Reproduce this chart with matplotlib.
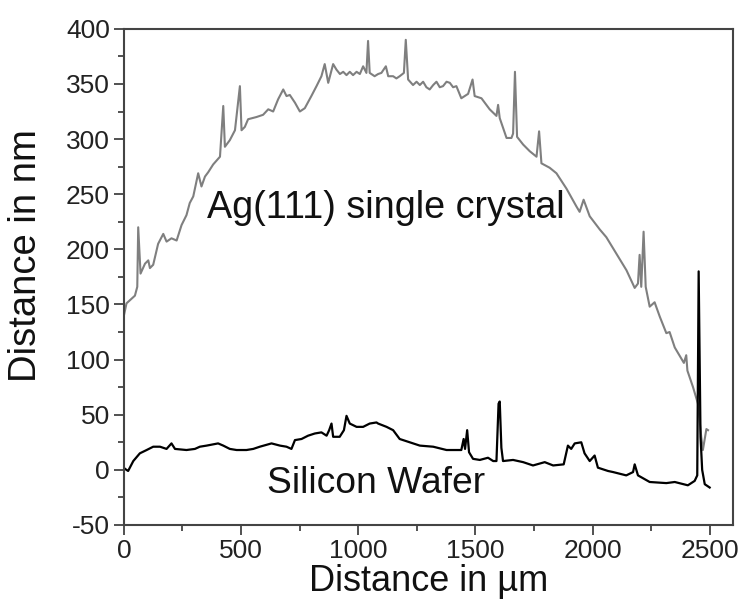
import matplotlib
matplotlib.use("Agg")
import matplotlib.pyplot as plt
from matplotlib.ticker import MultipleLocator

plt.rcParams['font.family'] = ['Liberation Sans', 'DejaVu Sans']
plt.rcParams['axes.unicode_minus'] = False

# Ag(111) single crystal profile (gray)
ag_x = [0, 11, 47, 57, 61, 71, 90, 104, 111, 125, 146, 168, 182, 203, 225, 246,
        267, 281, 296, 317, 331, 346, 360, 381, 410, 424, 431, 452, 474, 495, 502,
        516, 530, 566, 594, 616, 637, 658, 680, 694, 708, 730, 751, 772, 800, 822,
        843, 857, 872, 893, 907, 922, 936, 950, 964, 978, 993, 1007, 1021, 1035,
        1042, 1049, 1070, 1085, 1099, 1118, 1128, 1149, 1163, 1177, 1195, 1203,
        1213, 1234, 1249, 1263, 1277, 1291, 1305, 1320, 1334, 1348, 1362, 1377,
        1391, 1405, 1419, 1440, 1469, 1488, 1497, 1526, 1561, 1590, 1597, 1604,
        1633, 1654, 1661, 1669, 1678, 1704, 1732, 1761, 1772, 1782, 1817, 1846,
        1889, 1931, 1945, 1962, 1988, 2031, 2059, 2102, 2145, 2180, 2194, 2201,
        2208, 2218, 2227, 2244, 2265, 2287, 2315, 2329, 2351, 2379, 2390, 2400,
        2405, 2429, 2450, 2464, 2471, 2486, 2493]
ag_y = [140, 151, 158, 166, 220, 178, 187, 190, 183, 186, 205, 214, 207, 210, 208, 222,
        231, 242, 248, 269, 257, 266, 270, 277, 284, 330, 293, 299, 308, 348, 308,
        311, 318, 320, 322, 327, 325, 336, 345, 339, 340, 333, 325, 328, 339, 348,
        357, 368, 351, 368, 363, 359, 361, 358, 361, 358, 361, 359, 366, 360,
        389, 360, 357, 359, 360, 366, 357, 357, 355, 357, 360, 390,
        354, 349, 352, 349, 352, 347, 345, 349, 352, 347, 348, 352,
        351, 347, 348, 337, 341, 354, 339, 337, 327, 321, 331, 319,
        301, 301, 305, 361, 302, 295, 289, 284, 307, 278, 274, 269,
        255, 239, 234, 245, 230, 218, 211, 196, 181, 165, 169, 195,
        166, 216, 166, 148, 152, 139, 124, 125, 111, 101, 97, 104,
        90, 75, 60, 30, 18, 37, 36]

# Silicon wafer profile (black)
si_x = [0, 4, 18, 40, 68, 97, 125, 154, 182, 203, 218, 267, 303, 324, 353, 402,
        424, 452, 481, 523, 552, 580, 630, 666, 694, 715, 730, 758, 786, 815, 843,
        865, 876, 886, 893, 921, 939, 950, 964, 993, 1021, 1049, 1078, 1085, 1121,
        1149, 1177, 1220, 1263, 1320, 1377, 1440, 1450, 1456, 1465, 1473, 1490,
        1519, 1554, 1576, 1590, 1599, 1604, 1611, 1618, 1661, 1704, 1746, 1796,
        1832, 1877, 1895, 1909, 1924, 1952, 1966, 1988, 2009, 2023, 2066, 2088,
        2144, 2173, 2180, 2194, 2244, 2315, 2351, 2407, 2436, 2447, 2453, 2461,
        2468, 2479, 2500]
si_y = [2, 1, -1, 8, 15, 18, 21, 21, 19, 24, 19, 18, 19, 21, 22, 24,
        22, 19, 18, 18, 19, 21, 24, 22, 21, 19, 27, 28, 31, 33, 34,
        31, 36, 42, 30, 30, 36, 49, 42, 39, 39, 42, 43, 42, 39,
        36, 28, 25, 22, 21, 18, 18, 28, 19, 36, 16, 10,
        9, 11, 8, 8, 60, 62, 20, 8, 9, 7, 4, 7,
        4, 5, 22, 19, 24, 25, 15, 8, 13, 2, -1, -2,
        -5, -2, 5, -5, -11, -12, -11, -14, -10, -5, 180, 30,
        0, -13, -16]

fig = plt.figure(figsize=(7.42, 6.0), dpi=100)
ax = fig.add_axes([0.167, 0.125, 0.821, 0.827])

ax.plot(ag_x, ag_y, color='#7f7f7f', lw=1.5)
ax.plot(si_x, si_y, color='black', lw=1.6)

ax.text(354, 228, 'Ag(111) single crystal', fontsize=27.2, ha='left', va='baseline', color='#111111')
ax.text(610, -21, 'Silicon Wafer', fontsize=26.8, ha='left', va='baseline', color='#111111')

ax.set_xlim(0, 2600)
ax.set_ylim(-50, 400)
ax.xaxis.set_major_locator(MultipleLocator(500))
ax.xaxis.set_minor_locator(MultipleLocator(250))
ax.yaxis.set_major_locator(MultipleLocator(50))
ax.yaxis.set_minor_locator(MultipleLocator(25))
ax.set_xticks([0, 500, 1000, 1500, 2000, 2500])

ax.tick_params(which='major', direction='out', length=7, width=1.2, labelsize=19,
               colors='#333333', labelcolor='#222222', pad=3)
ax.tick_params(which='minor', direction='out', length=4, width=1.2, colors='#333333')
for s in ax.spines.values():
    s.set_linewidth(1.5)
    s.set_color('#444444')

ax.set_xlabel('Distance in µm', fontsize=26, labelpad=0.5, color='#111111')
ax.set_ylabel('Distance in nm', fontsize=27.5, color='#111111')
ax.yaxis.set_label_coords(-0.131, 0.544)

fig.savefig('out.png', dpi=100)
